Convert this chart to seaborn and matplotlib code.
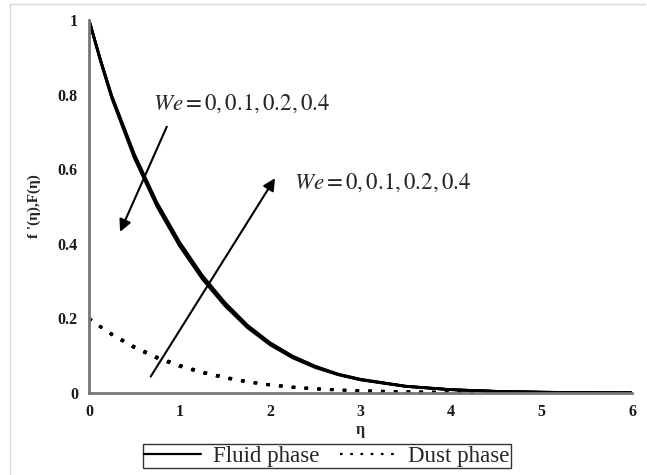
import numpy as np
import pandas as pd
import matplotlib
matplotlib.use("Agg")
import matplotlib.pyplot as plt
from matplotlib.lines import Line2D
import seaborn as sns

# eta grid
eta = [0, 0.125, 0.25, 0.5, 0.75, 1.0, 1.25, 1.5, 1.75, 2.0, 2.25, 2.5, 2.75,
       3.0, 3.5, 4.0, 4.5, 5.0, 5.5, 6.0]

we_values = ["0", "0.1", "0.2", "0.4"]

# fluid phase f'(eta), one list per We
fluid_we0 = [1.0, 0.895, 0.798, 0.641, 0.511, 0.405, 0.316, 0.243, 0.182, 0.135, 0.099, 0.072,
             0.051, 0.037, 0.0185, 0.0092, 0.0046, 0.0023, 0.0011, 0.0005]
fluid_we1 = [1.0, 0.894, 0.796, 0.638, 0.508, 0.402, 0.313, 0.240, 0.180, 0.133, 0.098, 0.071,
             0.050, 0.036, 0.018, 0.009, 0.0045, 0.0022, 0.0011, 0.0005]
fluid_we2 = [1.0, 0.893, 0.794, 0.635, 0.505, 0.399, 0.311, 0.238, 0.178, 0.131, 0.096, 0.070,
             0.050, 0.036, 0.0178, 0.0089, 0.0044, 0.0022, 0.001, 0.0005]
fluid_we4 = [1.0, 0.891, 0.791, 0.630, 0.500, 0.394, 0.306, 0.234, 0.175, 0.129, 0.094, 0.068,
             0.049, 0.035, 0.0175, 0.0087, 0.0043, 0.0021, 0.001, 0.0005]

# dust phase F(eta)
dust_we0 = [0.200, 0.177, 0.156, 0.121, 0.093, 0.071, 0.054, 0.040, 0.029, 0.021, 0.015, 0.0108,
            0.0078, 0.0057, 0.003, 0.0015, 0.0007, 0.0003, 0.0001, 0.0]
dust_we1 = [0.200, 0.1775, 0.157, 0.122, 0.094, 0.072, 0.055, 0.041, 0.030, 0.0215, 0.0155, 0.011,
            0.008, 0.0059, 0.0031, 0.0016, 0.0008, 0.0003, 0.0001, 0.0]
dust_we2 = [0.200, 0.178, 0.158, 0.123, 0.095, 0.073, 0.056, 0.042, 0.0305, 0.022, 0.016, 0.0115,
            0.0083, 0.006, 0.0032, 0.0016, 0.0008, 0.0003, 0.0001, 0.0]
dust_we4 = [0.200, 0.179, 0.159, 0.125, 0.097, 0.075, 0.057, 0.043, 0.031, 0.0225, 0.0163, 0.0118,
            0.0085, 0.0062, 0.0033, 0.0017, 0.0008, 0.0004, 0.0001, 0.0]

fluid = [fluid_we0, fluid_we1, fluid_we2, fluid_we4]
dust = [dust_we0, dust_we1, dust_we2, dust_we4]

rows = []
for we, fl, du in zip(we_values, fluid, dust):
    for e, a, b in zip(eta, fl, du):
        rows.append({"eta": e, "We": we, "phase": "Fluid phase", "val": a})
        rows.append({"eta": e, "We": we, "phase": "Dust phase", "val": b})
df = pd.DataFrame(rows)

sns.set_style("white")
plt.rcParams["font.family"] = ["Liberation Serif", "DejaVu Serif"]
plt.rcParams["mathtext.fontset"] = "stix"

DOTS = (0, (1.2, 3.4))

fig = plt.figure(figsize=(6.47, 4.75), dpi=100)
ax = fig.add_axes([0.1376, 0.1726, 0.8394, 0.7853])

sns.lineplot(data=df[df.phase == "Fluid phase"], x="eta", y="val", units="We",
             estimator=None, color="black", linewidth=1.9, ax=ax, legend=False)
sns.lineplot(data=df[df.phase == "Dust phase"], x="eta", y="val", units="We",
             estimator=None, color="black", linewidth=2.0, linestyle=DOTS,
             ax=ax, legend=False)

ax.set_xlim(0, 6)
ax.set_ylim(0, 1)
ax.set_xticks(range(7))
ax.set_xticks(np.arange(0.5, 6, 1), minor=True)
ax.set_yticks([0, 0.2, 0.4, 0.6, 0.8, 1])
ax.set_yticklabels(["0", "0.2", "0.4", "0.6", "0.8", "1"])
ax.set_yticks(np.arange(0.1, 1, 0.2), minor=True)
ax.tick_params(axis="both", which="both", labelsize=11.5, colors="#555555",
               labelcolor="#1a1a1a", width=1.2)
ax.tick_params(axis="y", which="major", direction="out", length=5, pad=3)
ax.tick_params(axis="y", which="minor", direction="out", length=4)
ax.tick_params(axis="x", which="major", direction="in", length=4, pad=8)
ax.tick_params(axis="x", which="minor", direction="in", length=3)
for lab in ax.get_xticklabels() + ax.get_yticklabels():
    lab.set_fontweight("bold")

for s in ["top", "right"]:
    ax.spines[s].set_visible(False)
for s in ["left", "bottom"]:
    ax.spines[s].set_color("#777777")
    ax.spines[s].set_linewidth(2)

ax.set_xlabel("η", fontsize=11.5, fontweight="bold", labelpad=1)
ax.set_ylabel("f '(η),F(η)", fontsize=11, fontweight="bold", labelpad=12)

# annotations
ax.annotate("", xy=(0.343, 0.432), xytext=(0.859, 0.714),
            arrowprops=dict(arrowstyle="-|>", color="black", lw=1.5,
                            mutation_scale=18, shrinkA=0, shrinkB=0))
ax.annotate("", xy=(2.055, 0.576), xytext=(0.681, 0.044),
            arrowprops=dict(arrowstyle="-|>", color="black", lw=1.5,
                            mutation_scale=18, shrinkA=0, shrinkB=0))
ax.text(0.71, 0.777, r"$We = 0,0.1,0.2,0.4$", fontsize=16.5, va="center", ha="left")
ax.text(2.27, 0.563, r"$We = 0,0.1,0.2,0.4$", fontsize=16.5, va="center", ha="left")

handles = [Line2D([], [], color="black", lw=1.6),
           Line2D([], [], color="black", lw=1.6, linestyle=DOTS)]
leg = fig.legend(handles, ["Fluid phase", "Dust phase"], ncol=2,
                 loc="center", bbox_to_anchor=(0.505, 0.040), fontsize=16.5,
                 frameon=True, fancybox=False, edgecolor="black",
                 handlelength=2.5, columnspacing=0.9, borderpad=0.05,
                 handletextpad=0.5, borderaxespad=0)
leg.get_frame().set_linewidth(1.0)

# light frame around the figure
fig.add_artist(Line2D([10 / 647, 10 / 647], [0, 1 - 4 / 475], transform=fig.transFigure,
                      color="#d8d8d8", lw=1))
fig.add_artist(Line2D([10 / 647, 645 / 647], [1 - 4 / 475, 1 - 4 / 475],
                      transform=fig.transFigure, color="#d8d8d8", lw=1))

fig.savefig("out.png", dpi=100)
